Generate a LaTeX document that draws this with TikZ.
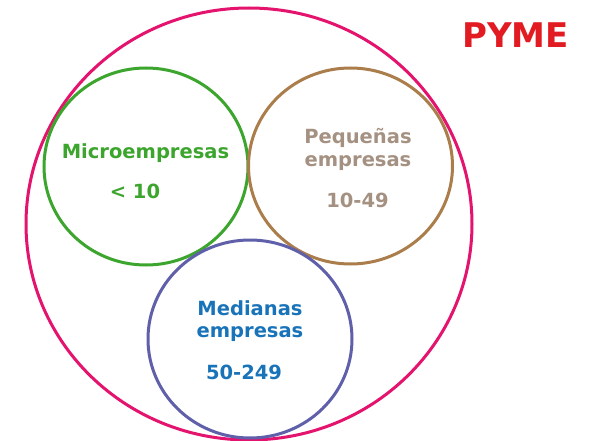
\documentclass[tikz,border=0pt]{standalone}
\usepackage{fontspec}
\setmainfont{DejaVu Sans}
\definecolor{pymered}{RGB}{226,26,34}
\definecolor{bigring}{RGB}{228,20,110}
\definecolor{microgreen}{RGB}{60,165,45}
\definecolor{pequebrown}{RGB}{170,125,75}
\definecolor{pequetext}{RGB}{165,145,130}
\definecolor{medring}{RGB}{95,95,170}
\definecolor{medtext}{RGB}{25,115,185}
\tikzset{
  ring/.style={line width=3pt},
  lbl/.style={font=\fontsize{19.5}{22}\selectfont\bfseries, inner sep=0pt, anchor=center},
}
\begin{document}
\begin{tikzpicture}[x=1pt,y=-1pt]
\useasboundingbox (0,0) rectangle (589,441);
\fill[white] (0,0) rectangle (589,441);
\draw[ring, bigring] (249,224) ellipse [x radius=223, y radius=216];
\draw[ring, microgreen] (146,166.5) ellipse [x radius=102, y radius=98.5];
\draw[ring, pequebrown] (350.5,166) ellipse [x radius=102, y radius=98];
\draw[ring, medring] (250,339) ellipse [x radius=102, y radius=99];
\node[lbl, microgreen] (m1) at (145.5,153) {Microempresas};
\node[lbl, microgreen] (m2) at (135,191) {< 10};
\node[lbl, pequetext] (p1) at (358,138) {Pequeñas};
\node[lbl, pequetext] (p2) at (358,163) {empresas};
\node[lbl, pequetext] (p3) at (357.5,200) {10-49};
\node[lbl, medtext] (d1) at (250,308) {Medianas};
\node[lbl, medtext] (d2) at (250,334) {empresas};
\node[lbl, medtext] (d3) at (244,372) {50-249};
\node[font=\fontsize{34}{38}\selectfont\bfseries, pymered, inner sep=0pt] (pyme) at (515.5,35) {PYME};
\end{tikzpicture}
\end{document}
